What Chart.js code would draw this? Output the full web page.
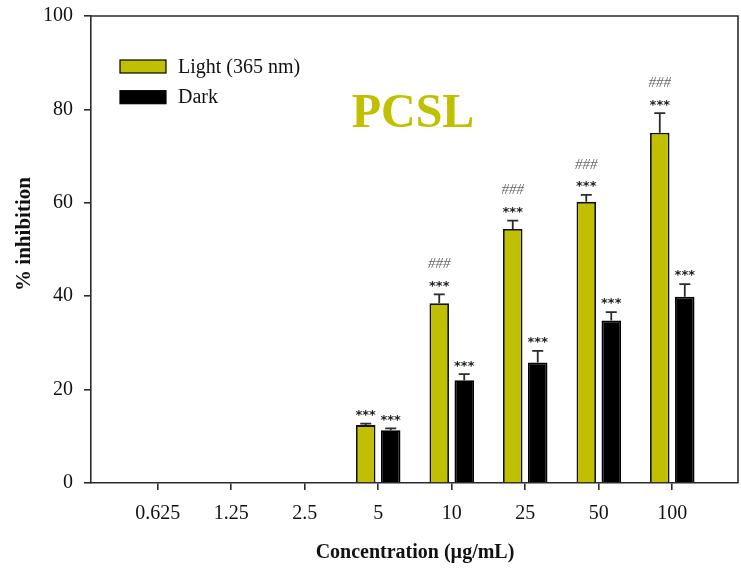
<!DOCTYPE html>
<html>
<head>
<meta charset="utf-8">
<script src="https://cdn.jsdelivr.net/npm/chart.js@4"></script>
<style>
  html, body { margin: 0; padding: 0; background: #fff; }
  #wrap { width: 741px; height: 569px; }
</style>
</head>
<body>
<div id="wrap"><canvas id="grafico"></canvas></div>
<script>
// concentrations (µg/mL)
const concentraciones = ['0.625', '1.25', '2.5', '5', '10', '25', '50', '100'];
// % inhibition, light (365 nm) and dark
const luz = [null, null, null, 12.4, 38.5, 54.4, 60.2, 75.0];
const oscuro = [null, null, null, 11.3, 22.0, 25.8, 34.8, 39.9];
// upper error bars
const errLuz = [null, null, null, 0.3, 1.9, 1.8, 1.5, 4.2];
const errOscuro = [null, null, null, 0.4, 1.3, 2.5, 1.8, 2.7];
// significance marks
const marcasLuz = ['', '', '', '***', '***', '***', '***', '***'];
const hashLuz = ['', '', '', '', '###', '###', '###', '###'];
const marcasOscuro = ['', '', '', '***', '***', '***', '***', '***'];
const yTicks = [0, 20, 40, 60, 80, 100];

const OLIVA = '#c0c000';
const LINEA = '#2b2b2b';
const SERIF = '"Liberation Serif", "DejaVu Serif", serif';

const puntos = (vals) => vals.map((v, i) => ({ x: i, y: v }));

// error bars + *** / ### labels over each bar
const extras = {
  id: 'extras',
  afterDatasetsDraw(chart) {
    const ctx = chart.ctx;
    const y = chart.scales.y;
    const grupos = [
      { err: errLuz, vals: luz, marcas: marcasLuz, hash: hashLuz },
      { err: errOscuro, vals: oscuro, marcas: marcasOscuro, hash: null }
    ];
    grupos.forEach((g, d) => {
      chart.getDatasetMeta(d).data.forEach((bar, i) => {
        if (g.vals[i] == null) return;
        const top = y.getPixelForValue(g.vals[i]);
        const cap = y.getPixelForValue(g.vals[i] + g.err[i]);
        ctx.save();
        ctx.strokeStyle = LINEA;
        ctx.lineWidth = 1.8;
        ctx.beginPath();
        ctx.moveTo(bar.x, top);
        ctx.lineTo(bar.x, cap);
        ctx.moveTo(bar.x - 5.5, cap);
        ctx.lineTo(bar.x + 5.5, cap);
        ctx.stroke();
        ctx.textAlign = 'center';
        ctx.textBaseline = 'middle';
        ctx.fillStyle = '#222';
        ctx.font = 'bold 13px "DejaVu Sans", sans-serif';
        if (g.marcas[i]) ctx.fillText(g.marcas[i], bar.x, cap - 8);
        if (g.hash && g.hash[i]) {
          ctx.fillStyle = '#666';
          ctx.font = 'italic 15px ' + SERIF;
          ctx.fillText(g.hash[i], bar.x, cap - 30);
        }
        ctx.restore();
      });
    });
  },
  afterDraw(chart) {
    const ctx = chart.ctx;
    const a = chart.chartArea;
    ctx.save();
    // top and right frame
    ctx.strokeStyle = LINEA;
    ctx.lineWidth = 1.6;
    ctx.beginPath();
    ctx.moveTo(a.left, a.top);
    ctx.lineTo(a.right, a.top);
    ctx.lineTo(a.right, a.bottom);
    ctx.stroke();

    // legend
    chart.data.datasets.forEach((ds, k) => {
      const by = 60 + k * 30.7;
      ctx.fillStyle = ds.backgroundColor;
      ctx.fillRect(120, by, 46, 13);
      ctx.strokeStyle = '#000';
      ctx.lineWidth = 1.2;
      ctx.strokeRect(120, by, 46, 13);
      ctx.fillStyle = '#111';
      ctx.font = '20px ' + SERIF;
      ctx.textAlign = 'left';
      ctx.textBaseline = 'middle';
      ctx.fillText(ds.label, 178, by + 7.5);
    });

    // PCSL label
    ctx.fillStyle = OLIVA;
    ctx.font = 'bold 48px ' + SERIF;
    ctx.textAlign = 'center';
    ctx.textBaseline = 'alphabetic';
    ctx.fillText('PCSL', 413, 127);

    // axis titles
    ctx.fillStyle = '#111';
    ctx.font = 'bold 20px ' + SERIF;
    ctx.textBaseline = 'middle';
    ctx.fillText('Concentration (\u00b5g/mL)', 415, 553);
    ctx.font = 'bold 21px ' + SERIF;
    ctx.translate(25, 234);
    ctx.rotate(-Math.PI / 2);
    ctx.fillText('% inhibition', 0, 0);
    ctx.restore();
  }
};

new Chart(document.getElementById('grafico'), {
  type: 'bar',
  data: {
    datasets: [{
      label: 'Light (365 nm)',
      data: puntos(luz),
      backgroundColor: OLIVA,
      borderColor: '#111',
      borderWidth: 1.8,
      borderSkipped: 'bottom'
    }, {
      label: 'Dark',
      data: puntos(oscuro),
      backgroundColor: '#000',
      borderColor: '#000',
      borderWidth: 1.8,
      borderSkipped: 'bottom'
    }]
  },
  options: {
    responsive: true,
    maintainAspectRatio: false,
    animation: false,
    categoryPercentage: 0.68,
    barPercentage: 0.78,
    layout: { padding: { top: 16, right: 3, left: 0, bottom: 0 } },
    plugins: { legend: { display: false }, tooltip: { enabled: false } },
    scales: {
      x: {
        type: 'linear',
        min: -0.907,
        max: 7.894,
        offset: false,
        afterBuildTicks: (s) => { s.ticks = concentraciones.map((_, i) => ({ value: i })); },
        afterFit: (s) => { s.height = 86; s.paddingLeft = 0; s.paddingRight = 0; },
        ticks: {
          callback: (v) => concentraciones[v],
          color: '#111',
          font: { family: SERIF, size: 20 },
          padding: 12,
          maxRotation: 0,
          autoSkip: false
        },
        grid: { offset: false, drawOnChartArea: false, drawTicks: true, tickLength: 7, color: LINEA, lineWidth: 1.6 },
        border: { color: LINEA, width: 1.6 }
      },
      y: {
        min: 0,
        max: 100,
        afterBuildTicks: (s) => { s.ticks = yTicks.map((v) => ({ value: v })); },
        afterFit: (s) => { s.width = 91; s.paddingTop = 0; s.paddingBottom = 0; },
        ticks: {
          color: '#111',
          font: { family: SERIF, size: 20 },
          padding: 11
        },
        grid: { drawOnChartArea: false, drawTicks: true, tickLength: 7, color: LINEA, lineWidth: 1.6 },
        border: { color: LINEA, width: 1.6 }
      }
    }
  },
  plugins: [extras]
});
</script>
</body>
</html>
